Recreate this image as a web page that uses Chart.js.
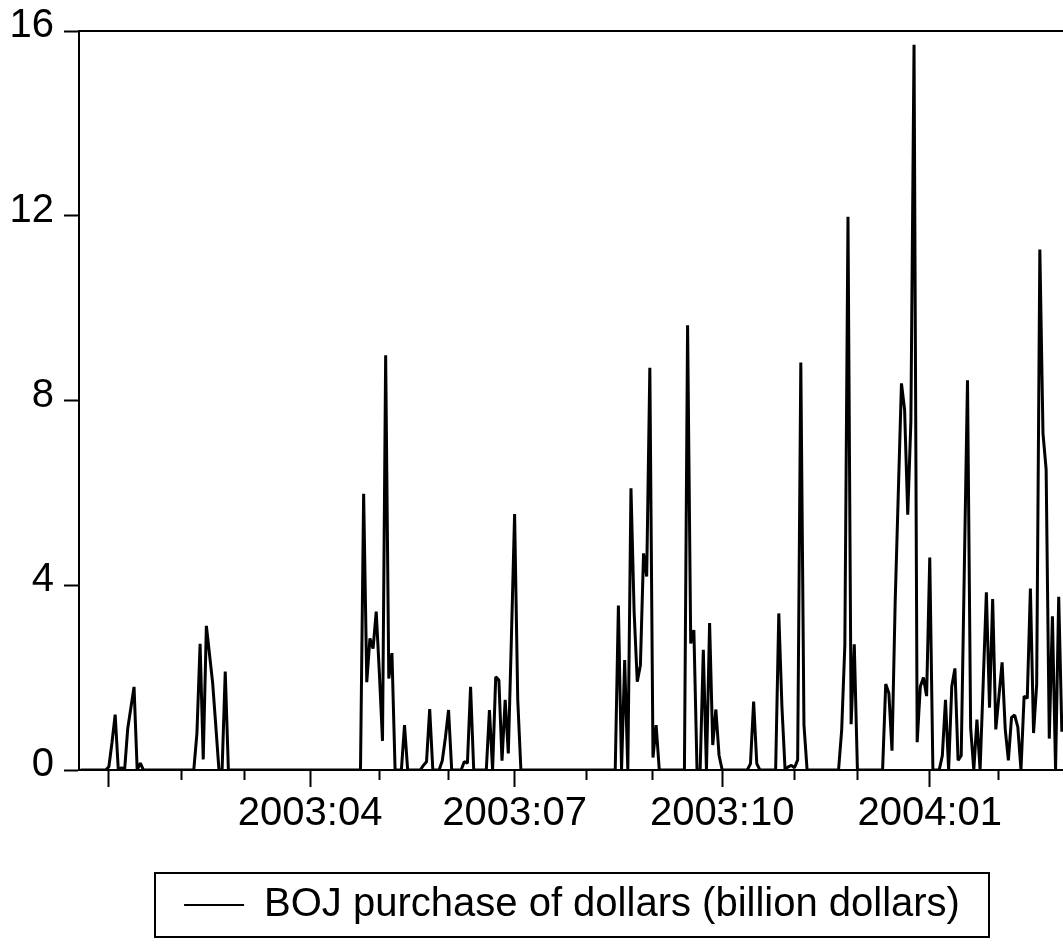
<!DOCTYPE html>
<html>
<head>
<meta charset="utf-8">
<script src="https://cdn.jsdelivr.net/npm/chart.js@4.4.1/dist/chart.umd.min.js"></script>
<style>
  html, body { margin: 0; padding: 0; background: #fff; overflow: hidden; }
  #wrap { width: 1072px; height: 945px; }
</style>
</head>
<body>
<div id="wrap"><canvas id="chart" width="1072" height="945"></canvas></div>
<script>
// Daily (weekday) BOJ dollar purchases, billions of dollars
const seriesName = 'BOJ purchase of dollars (billion dollars)';
const firstDate = '2002-12-19';

const purchases = [
  // 2002 Dec (from the 19th)
  0, 0, 0, 0, 0, 0, 0, 0, 0,
  // 2003 Jan
  0.07, 0.6, 1.2, 0, 0.05, 0, 0.9, 1.35, 1.8, 0, 0.15, 0, 0, 0, 0, 0, 0, 0, 0, 0, 0, 0, 0,
  // 2003 Feb
  0, 0, 0, 0, 0, 0.8, 2.73, 0.23, 3.12, 2.5, 1.88, 0.95, 0, 0, 2.13, 0, 0, 0, 0, 0,
  // 2003 Mar
  0, 0, 0, 0, 0, 0, 0, 0, 0, 0, 0, 0, 0, 0, 0, 0, 0, 0, 0, 0, 0,
  // 2003 Apr
  0, 0, 0, 0, 0, 0, 0, 0, 0, 0, 0, 0, 0, 0, 0, 0, 0, 5.98, 1.9, 2.85, 2.63, 3.43,
  // 2003 May
  2.1, 0.63, 8.98, 1.98, 2.53, 0, 0, 0, 0.97, 0, 0, 0, 0, 0, 0.1, 0.18, 1.32, 0, 0, 0, 0.2, 0.7,
  // 2003 Jun
  1.3, 0, 0, 0, 0, 0.18, 0.15, 1.8, 0, 0, 0, 0, 0, 1.3, 0, 2.02, 1.95, 0.2, 1.52, 0.36, 2.9,
  // 2003 Jul
  5.54, 1.52, 0, 0, 0, 0, 0, 0, 0, 0, 0, 0, 0, 0, 0, 0, 0, 0, 0, 0, 0, 0, 0,
  // 2003 Aug
  0, 0, 0, 0, 0, 0, 0, 0, 0, 0, 3.56, 0, 2.38, 0, 6.1, 3.43, 1.91, 2.27, 4.69, 4.19, 8.71,
  // 2003 Sep
  0.27, 0.97, 0, 0, 0, 0, 0, 0, 0, 0, 0, 9.63, 2.74, 3.03, 0, 0, 2.6, 0, 3.18, 0.54, 1.31, 0.32,
  // 2003 Oct
  0, 0, 0, 0, 0, 0, 0, 0, 0, 0.14, 1.48, 0.14, 0, 0, 0, 0, 0, 0, 3.39, 1.37, 0, 0.07, 0.1,
  // 2003 Nov
  0.05, 0.22, 8.82, 0.98, 0, 0, 0, 0, 0, 0, 0, 0, 0, 0, 0, 0.87, 2.7, 11.98, 0.99, 2.72,
  // 2003 Dec
  0, 0, 0, 0, 0, 0, 0, 0, 0, 1.86, 1.66, 0.42, 3.62, 6.0, 8.37, 7.8, 5.53, 7.55, 15.7, 0.6, 1.81, 2.0, 1.6,
  // 2004 Jan
  4.6, 0, 0, 0, 0.31, 1.52, 0, 1.81, 2.2, 0.21, 0.31, 4.4, 8.44, 0.91, 0, 1.09, 0, 1.9, 3.85, 1.35, 3.7, 0.88,
  // 2004 Feb
  1.6, 2.33, 0.88, 0.21, 1.14, 1.19, 0.93, 0, 1.6, 1.55, 3.93, 0.8, 1.86, 11.27, 7.29, 6.51, 0.68, 3.33, 0, 3.75,
  // 2004 Mar
  0.83
];

// Month marks on the time axis (short ticks) and quarter marks (long ticks)
const monthTicks = ['2003-01', '2003-02', '2003-03', '2003-04', '2003-05', '2003-06', '2003-07',
                    '2003-08', '2003-09', '2003-10', '2003-11', '2003-12', '2004-01', '2004-02'];
const quarterTicks = ['2003-01', '2003-04', '2003-07', '2003-10', '2004-01'];
const quarterLabels = ['', '2003:04', '2003:07', '2003:10', '2004:01'];
const yTicks = [0, 4, 8, 12, 16];

// Weekday calendar for the observations
function weekdays(start, n) {
  const out = [];
  const d = new Date(start + 'T00:00:00Z');
  while (out.length < n) {
    const w = d.getUTCDay();
    if (w !== 0 && w !== 6) out.push(d.toISOString().slice(0, 10));
    d.setUTCDate(d.getUTCDate() + 1);
  }
  return out;
}
const dates = weekdays(firstDate, purchases.length);
const firstObsOf = ym => dates.findIndex(d => d.startsWith(ym));
const monthPos = monthTicks.map(firstObsOf);
const quarterPos = quarterTicks.map(firstObsOf);
const points = purchases.map((v, i) => ({ x: i, y: v }));

const X_MIN = -0.5, X_MAX = 313;
const FONT = '"Liberation Sans", Arial, Helvetica, sans-serif';
Chart.defaults.font.family = FONT;
Chart.defaults.color = '#000';

// Frame drawn around the legend entry
const legendFrame = {
  id: 'legendFrame',
  afterDraw(chart) {
    const lg = chart.legend;
    if (!lg || !lg.legendHitBoxes || !lg.legendHitBoxes.length) return;
    const b = lg.legendHitBoxes[0];
    const ctx = chart.ctx;
    ctx.save();
    ctx.lineWidth = 2;
    ctx.strokeStyle = '#000';
    ctx.strokeRect(Math.round(b.left - 29), Math.round(b.top - 12), Math.round(b.width + 58), Math.round(b.height + 24));
    ctx.restore();
  }
};

new Chart(document.getElementById('chart'), {
  type: 'line',
  data: {
    datasets: [{
      label: seriesName,
      data: points,
      borderColor: '#000',
      backgroundColor: '#000',
      borderWidth: 3,
      borderJoinStyle: 'bevel',
      pointRadius: 0,
      tension: 0,
      fill: false,
      xAxisID: 'x',
      yAxisID: 'y'
    }]
  },
  options: {
    responsive: false,
    animation: false,
    events: [],
    layout: { padding: { top: 31, right: 7, bottom: 10, left: 0 } },
    scales: {
      x: {
        type: 'linear', position: 'bottom', weight: 0,
        min: X_MIN, max: X_MAX,
        afterBuildTicks: s => { s.ticks = monthPos.map(v => ({ value: v })); },
        ticks: { display: false },
        grid: { display: true, drawOnChartArea: false, drawTicks: true, tickLength: 10, tickWidth: 2, tickColor: '#000' },
        border: { display: true, color: '#000', width: 2 },
        afterFit: s => { s.height = 10; }
      },
      xq: {
        type: 'linear', position: 'bottom', weight: 1,
        min: X_MIN, max: X_MAX,
        afterBuildTicks: s => { s.ticks = quarterPos.map(v => ({ value: v })); },
        ticks: {
          autoSkip: false, maxRotation: 0, minRotation: 0, padding: 3,
          font: { size: 40 }, color: '#000',
          callback: (v, i) => quarterLabels[i]
        },
        grid: { display: true, drawOnChartArea: false, drawTicks: true, tickLength: 7, tickWidth: 2, tickColor: '#000' },
        border: { display: false },
        afterFit: s => { s.height = 93; }
      },
      xt: {
        type: 'linear', position: 'top',
        min: X_MIN, max: X_MAX,
        ticks: { display: false },
        grid: { display: true, drawOnChartArea: false, drawTicks: false },
        border: { display: true, color: '#000', width: 2 },
        afterFit: s => { s.height = 0; }
      },
      y: {
        position: 'left', min: 0, max: 16,
        afterBuildTicks: s => { s.ticks = yTicks.map(v => ({ value: v })); },
        ticks: { padding: 10, font: { size: 40, lineHeight: 1.0 }, color: '#000', labelOffset: -5 },
        grid: { display: true, drawOnChartArea: false, tickLength: 15, tickWidth: 2, tickColor: '#000' },
        border: { display: true, color: '#000', width: 2 },
        afterFit: s => { s.width = 79; }
      },
      yr: {
        position: 'right', min: 0, max: 16,
        ticks: { display: false },
        grid: { display: true, drawOnChartArea: false, drawTicks: false },
        border: { display: true, color: '#000', width: 2 },
        afterFit: s => { s.width = 0; }
      }
    },
    plugins: {
      legend: {
        position: 'bottom',
        fullSize: false,
        labels: {
          usePointStyle: true, pointStyle: 'line', pointStyleWidth: 60,
          padding: 12, font: { size: 40 }, color: '#000',
          generateLabels: chart => Chart.defaults.plugins.legend.labels.generateLabels(chart)
            .map(item => Object.assign(item, { lineWidth: 2 }))
        }
      },
      tooltip: { enabled: false }
    }
  },
  plugins: [legendFrame]
});
</script>
</body>
</html>
